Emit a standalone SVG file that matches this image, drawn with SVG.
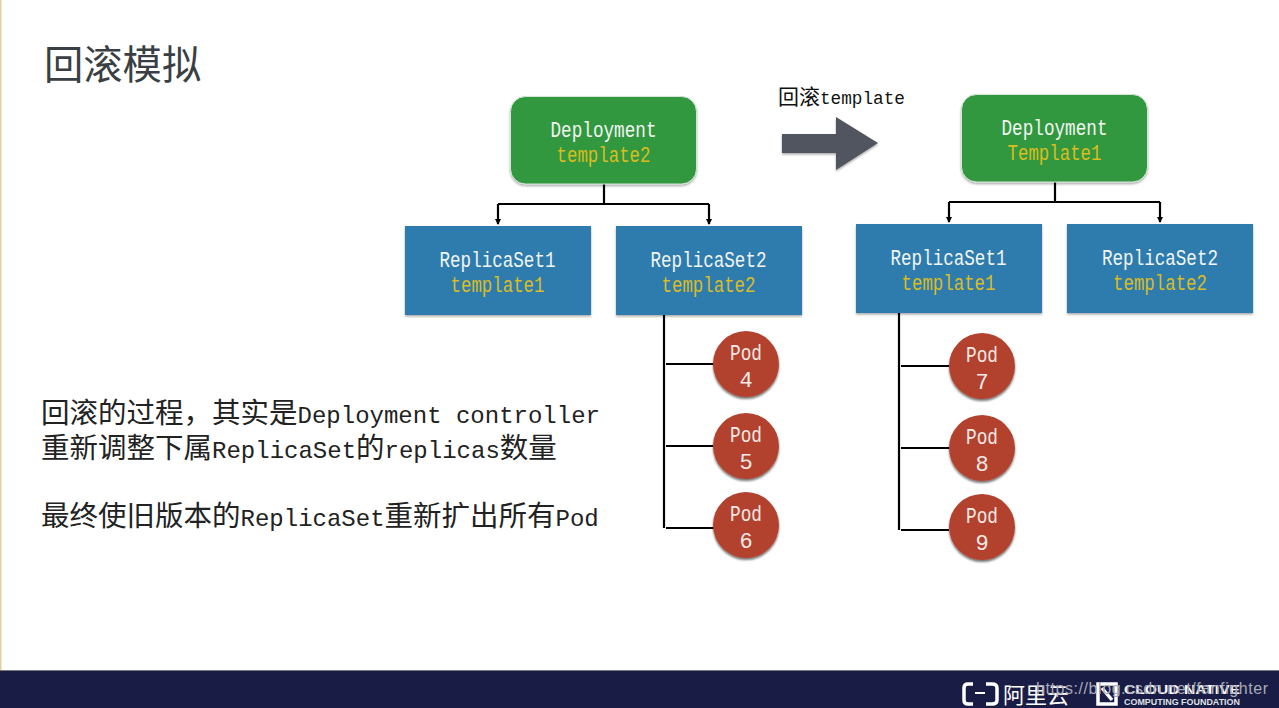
<svg xmlns="http://www.w3.org/2000/svg" width="1279" height="708" viewBox="0 0 1279 708">
<style>
text{font-family:"Liberation Mono","Noto Sans CJK SC",monospace}
.n{font-size:22px;fill:#f2f5f2;text-anchor:middle}
.y{font-size:22px;fill:#dcbc1e;text-anchor:middle}
.p{font-size:22px;fill:#f6e9e6;text-anchor:middle}
.b{font-size:28.5px;fill:#222}
.l{font-size:24px}
.c{fill:none;stroke:#000;stroke-width:2.200}
.g{fill:#30983f;stroke:#d5e6d8;stroke-width:1}
.r{fill:#2f7bae}
.o{fill:#b2432f}
</style>
<defs>
<marker id="a" markerWidth="7" markerHeight="7" refX="5" refY="3" orient="auto" markerUnits="userSpaceOnUse"><path d="M0 0L6 3L0 6Z" fill="#000"/></marker>
<filter id="s" x="-10%" y="-10%" width="120%" height="125%"><feDropShadow dx="0" dy="1.500" stdDeviation="1.200" flood-color="#000" flood-opacity=".35"/></filter>
<filter id="t" x="-10%" y="-10%" width="120%" height="125%"><feDropShadow dx="0" dy="2" stdDeviation="1.300" flood-color="#000" flood-opacity=".55"/></filter>
</defs>
<rect width="1279" height="708" fill="#fff"/>
<rect x="0" y="0" width="1.500" height="671" fill="#e6cf9f"/>
<rect x="0" y="671" width="1279" height="37" fill="#191c44"/>
<rect x="0" y="670" width="1279" height="1" fill="#777"/>
<text x="44" y="79" style="font-family:'Noto Sans CJK SC',sans-serif;font-size:39.300px;fill:#3a3f44">回滚模拟</text>
<text class="b" x="41" y="423">回滚的过程，其实是<tspan class="l">Deployment controller</tspan></text>
<text class="b" x="41" y="458">重新调整下属<tspan class="l">ReplicaSet</tspan>的<tspan class="l">replicas</tspan>数量</text>
<text class="b" x="41" y="526">最终使旧版本的<tspan class="l">ReplicaSet</tspan>重新扩出所有<tspan class="l">Pod</tspan></text>
<text x="778" y="104" style="font-size:21px;fill:#111">回滚<tspan style="font-size:17.700px">template</tspan></text>
<g id="connectors">
<path class="c" d="M604 184V204M498 204H709M498 204V224" marker-end="url(#a)"/>
<path class="c" d="M709 204V224" marker-end="url(#a)"/>
<path class="c" d="M1055 182V202M949 202H1160M949 202V222" marker-end="url(#a)"/>
<path class="c" d="M1160 202V222" marker-end="url(#a)"/>
<path class="c" d="M664 315V528M666 364H714M666 446H714M666 528H714"/>
<path class="c" d="M899 313V530M901 366H949M901 448H949M901 530H949"/>
</g>
<g id="arrow"><path d="M782 134H836V117L878 143L836 170V153H782Z" fill="#51555f" filter="url(#s)"/></g>
<g id="dep1"><rect class="g" x="510.500" y="96.500" width="186" height="87.500" rx="15" filter="url(#s)"/><text class="n" x="603.500" y="137" textLength="106" lengthAdjust="spacingAndGlyphs">Deployment</text><text class="y" x="603.500" y="162" textLength="94" lengthAdjust="spacingAndGlyphs">template2</text></g>
<g id="rs1"><rect class="r" x="405" y="226" width="186" height="89" filter="url(#s)"/><text class="n" x="497.500" y="267" textLength="116" lengthAdjust="spacingAndGlyphs">ReplicaSet1</text><text class="y" x="497.500" y="292" textLength="94" lengthAdjust="spacingAndGlyphs">template1</text></g>
<g id="rs2"><rect class="r" x="616" y="226" width="186" height="89" filter="url(#s)"/><text class="n" x="708.500" y="267" textLength="116" lengthAdjust="spacingAndGlyphs">ReplicaSet2</text><text class="y" x="708.500" y="292" textLength="94" lengthAdjust="spacingAndGlyphs">template2</text></g>
<g id="pod4"><circle class="o" cx="746" cy="364" r="33" filter="url(#t)"/><text class="p" x="746" y="360" textLength="32" lengthAdjust="spacingAndGlyphs">Pod</text><text class="p" x="746" y="387">4</text></g>
<g id="pod5"><circle class="o" cx="746" cy="446" r="33" filter="url(#t)"/><text class="p" x="746" y="442" textLength="32" lengthAdjust="spacingAndGlyphs">Pod</text><text class="p" x="746" y="469">5</text></g>
<g id="pod6"><circle class="o" cx="746" cy="525" r="33" filter="url(#t)"/><text class="p" x="746" y="521" textLength="32" lengthAdjust="spacingAndGlyphs">Pod</text><text class="p" x="746" y="548">6</text></g>
<g id="dep2"><rect class="g" x="961.500" y="94.500" width="186" height="87.500" rx="15" filter="url(#s)"/><text class="n" x="1054.500" y="135" textLength="106" lengthAdjust="spacingAndGlyphs">Deployment</text><text class="y" x="1054.500" y="160" textLength="94" lengthAdjust="spacingAndGlyphs">Template1</text></g>
<g id="rs3"><rect class="r" x="856" y="224" width="186" height="89" filter="url(#s)"/><text class="n" x="948.500" y="265" textLength="116" lengthAdjust="spacingAndGlyphs">ReplicaSet1</text><text class="y" x="948.500" y="290" textLength="94" lengthAdjust="spacingAndGlyphs">template1</text></g>
<g id="rs4"><rect class="r" x="1067" y="224" width="186" height="89" filter="url(#s)"/><text class="n" x="1160" y="265" textLength="116" lengthAdjust="spacingAndGlyphs">ReplicaSet2</text><text class="y" x="1160" y="290" textLength="94" lengthAdjust="spacingAndGlyphs">template2</text></g>
<g id="pod7"><circle class="o" cx="982" cy="366" r="33" filter="url(#t)"/><text class="p" x="982" y="362" textLength="32" lengthAdjust="spacingAndGlyphs">Pod</text><text class="p" x="982" y="389">7</text></g>
<g id="pod8"><circle class="o" cx="982" cy="448" r="33" filter="url(#t)"/><text class="p" x="982" y="444" textLength="32" lengthAdjust="spacingAndGlyphs">Pod</text><text class="p" x="982" y="471">8</text></g>
<g id="pod9"><circle class="o" cx="982" cy="527" r="33" filter="url(#t)"/><text class="p" x="982" y="523" textLength="32" lengthAdjust="spacingAndGlyphs">Pod</text><text class="p" x="982" y="550">9</text></g>
<g id="footer">
<path d="M973 684H968Q964 684 964 688V700Q964 704 968 704H973M986 684H992Q997 684 997 688V700Q997 704 992 704H986" fill="none" stroke="#fff" stroke-width="3.500"/><path d="M975 693H985" stroke="#fff" stroke-width="2"/>
<text x="1003" y="703" style="font-family:'Noto Sans CJK SC',sans-serif;font-size:22px;fill:#fff">阿里云</text>
<path d="M1098 684H1116V704H1098ZM1102 688L1112 700" fill="none" stroke="#fff" stroke-width="3.500"/>
<text x="1124" y="694" textLength="116" lengthAdjust="spacingAndGlyphs" style="font-family:'Liberation Sans',sans-serif;font-size:13.500px;font-weight:bold;fill:#fff">CLOUD NATIVE</text>
<text x="1124" y="705" textLength="116" lengthAdjust="spacingAndGlyphs" style="font-family:'Liberation Sans',sans-serif;font-size:8.500px;font-weight:bold;fill:#dfe0e6">COMPUTING FOUNDATION</text>
<text x="1036" y="694" style="font-family:'Liberation Sans',sans-serif;font-size:16px;fill:#a9aab8" textLength="232">https://blog.csdn.net/fanfighter</text>
</g>
</svg>
